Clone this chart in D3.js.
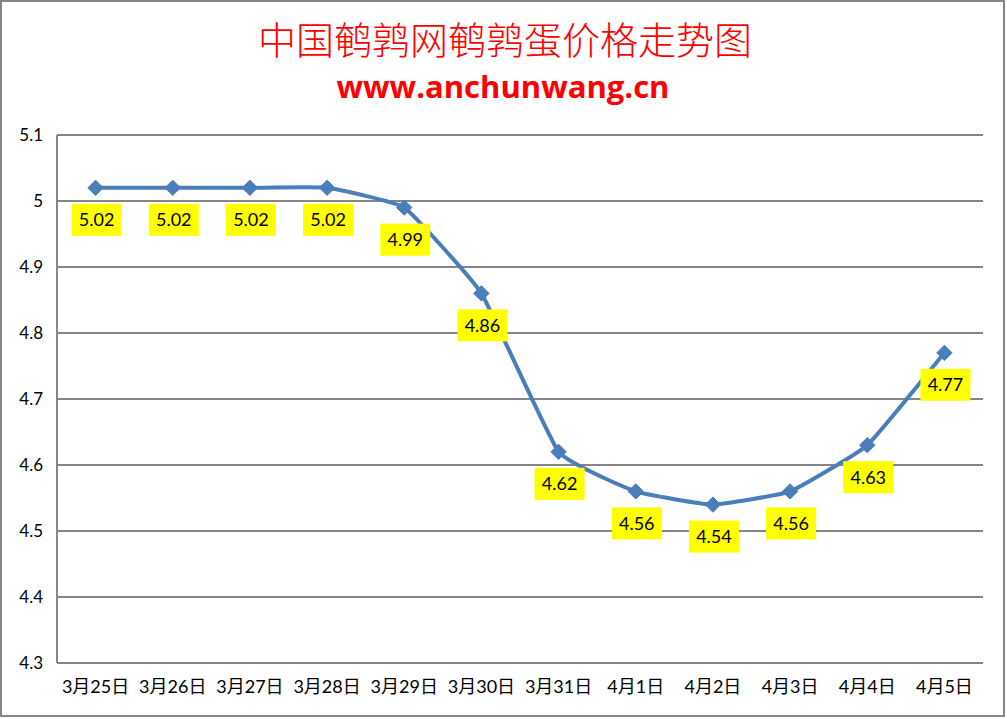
<!DOCTYPE html>
<html><head><meta charset="utf-8">
<script src="https://cdn.jsdelivr.net/npm/d3@7"></script>
<style>body{margin:0;background:#fff}svg{display:block}</style>
</head><body>
<svg id="c" width="1007" height="719"></svg>
<script>
const categories = ["3月25日","3月26日","3月27日","3月28日","3月29日","3月30日","3月31日","4月1日","4月2日","4月3日","4月4日","4月5日"];
const prices = [5.02,5.02,5.02,5.02,4.99,4.86,4.62,4.56,4.54,4.56,4.63,4.77];
const yTicks = [4.3,4.4,4.5,4.6,4.7,4.8,4.9,5.0,5.1];
const title = "中国鹌鹑网鹌鹑蛋价格走势图";
const subtitle = "www.anchunwang.cn";

const svg = d3.select("#c");
const m = {left:57, right:983, top:135, bottom:663};

svg.append("rect").attr("x",1).attr("y",1).attr("width",1003).attr("height",715)
  .attr("fill","#fff").attr("stroke","#868686").attr("stroke-width",2);

const x = d3.scaleBand().domain(categories).range([m.left, m.right]);
const y = d3.scaleLinear().domain([4.3,5.1]).range([m.bottom, m.top]);

// gridlines
svg.append("g").selectAll("line").data(yTicks).join("line")
  .attr("x1",m.left).attr("x2",m.right)
  .attr("y1",d=>y(d)).attr("y2",d=>y(d))
  .attr("stroke","#868686").attr("stroke-width",2);
svg.append("line").attr("x1",m.left).attr("x2",m.left).attr("y1",m.top).attr("y2",m.bottom)
  .attr("stroke","#868686").attr("stroke-width",2);

// y axis labels
const yAxis = d3.axisLeft(y).tickValues(yTicks).tickSize(0).tickPadding(14)
  .tickFormat(d=> d===5 ? "5" : d3.format(".1f")(d));
const gy = svg.append("g").attr("transform",`translate(${m.left},0)`).call(yAxis);
gy.select(".domain").remove();
gy.selectAll("text").attr("font-family","Lato, 'Open Sans', sans-serif").attr("font-size",17).attr("fill","#000");

// x axis labels
const xAxis = d3.axisBottom(x).tickSize(0).tickPadding(17);
const gx = svg.append("g").attr("transform",`translate(0,${m.bottom})`).call(xAxis);
gx.select(".domain").remove();
gx.selectAll("text").attr("font-family","Lato, 'Noto Sans CJK SC', sans-serif").attr("font-size",18).attr("fill","#000");

// line
const cx = d => x(d) + x.bandwidth()/2;
const data = categories.map((c,i)=>({c, v:prices[i]}));
const line = d3.line().x(d=>cx(d.c)).y(d=>y(d.v)).curve(d3.curveCardinal.tension(0.65));
svg.append("path").datum(data).attr("d",line).attr("fill","none")
  .attr("stroke","#4A7EBB").attr("stroke-width",4).attr("stroke-linejoin","round");

// markers
svg.append("g").selectAll("path").data(data).join("path")
  .attr("d", d3.symbol().type(d3.symbolDiamond2).size(150))
  .attr("transform",d=>`translate(${cx(d.c)},${y(d.v)})`)
  .attr("fill","#4A7EBB").attr("stroke","#4A7EBB").attr("stroke-width",1);

// labels
const lg = svg.append("g").selectAll("g").data(data).join("g")
  .attr("transform",d=>`translate(${cx(d.c)+1},${y(d.v)+32})`);
lg.append("rect").attr("x",-25).attr("y",-16).attr("width",50).attr("height",32).attr("fill","#FFFF00");
lg.append("text").text(d=>d3.format(".2f")(d.v)).attr("text-anchor","middle").attr("dy","0.36em")
  .attr("font-family","Lato, 'Open Sans', sans-serif").attr("font-size",18).attr("fill","#000");

// titles
svg.append("text").text(title).attr("x",505).attr("y",54).attr("text-anchor","middle")
  .attr("font-family","'Noto Sans CJK SC', sans-serif").attr("font-weight",300).attr("font-size",38).attr("fill","#FF0000");
svg.append("text").text(subtitle).attr("x",503).attr("y",98).attr("text-anchor","middle")
  .attr("font-family","'Open Sans', sans-serif").attr("font-weight",700).attr("font-size",31).attr("fill","#FF0000");
</script>
</body></html>
